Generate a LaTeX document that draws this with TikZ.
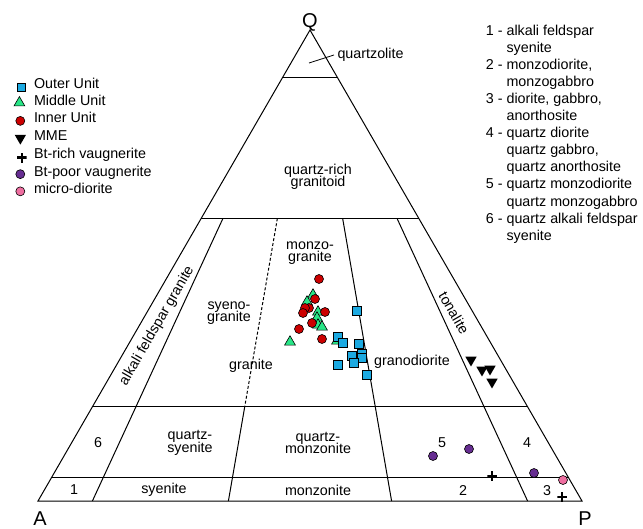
\documentclass[tikz,border=0pt]{standalone}
\usepackage{fontspec}
\setmainfont{Liberation Sans}
\usetikzlibrary{shapes.geometric}

\definecolor{OuterBlue}{RGB}{28,170,226}
\definecolor{MiddleGreen}{RGB}{40,230,135}
\definecolor{InnerRed}{RGB}{204,0,0}
\definecolor{PoorPurple}{RGB}{102,45,145}
\definecolor{MicroPink}{RGB}{238,110,160}

\newcommand{\fieldfont}{\fontsize{14.3}{12.5}\selectfont\lineskiplimit=-20pt\relax}

\begin{document}
\begin{tikzpicture}[x=1pt, y=-1pt, font=\fontsize{14.3}{17.1}\selectfont]
\tikzstyle{edge} = [line width=1pt]
\tikzstyle{corner} = [font=\fontsize{20}{20}\selectfont, inner sep=0pt, anchor=base]
\tikzstyle{field} = [align=center, inner sep=0pt, font=\fieldfont]
\tikzstyle{outer} = [rectangle, draw=black, fill=OuterBlue, line width=0.6pt, minimum size=8.5pt, inner sep=0pt]
\tikzstyle{middle} = [regular polygon, regular polygon sides=3, draw=black, fill=MiddleGreen, line width=0.6pt, minimum size=12.5pt, inner sep=0pt]
\tikzstyle{inner} = [circle, draw=black, fill=InnerRed, line width=0.6pt, minimum size=9pt, inner sep=0pt]
\tikzstyle{mme} = [regular polygon, regular polygon sides=3, shape border rotate=180, fill=black, minimum size=13pt, inner sep=0pt]
\tikzstyle{btrich} = [rectangle, minimum size=9.5pt, inner sep=0pt,
  path picture={\draw[line width=2.6pt] (path picture bounding box.north) -- (path picture bounding box.south)
    (path picture bounding box.west) -- (path picture bounding box.east);}]
\tikzstyle{btpoor} = [circle, draw=black, fill=PoorPurple, line width=0.6pt, minimum size=9pt, inner sep=0pt]
\tikzstyle{micro} = [circle, draw=black, fill=MicroPink, line width=0.6pt, minimum size=9pt, inner sep=0pt]
\tikzstyle{keytext} = [anchor=base west, text height=12pt, text depth=3.5pt, inner sep=0pt]

\useasboundingbox (0,0) rectangle (643,529);

\coordinate (A) at (38,501);
\coordinate (P) at (582,501);
\coordinate (Q) at (310,30);

\draw[edge] (A) -- (P) -- (Q) -- cycle;

\draw[edge] (barycentric cs:Q=.9,A=.1) -- (barycentric cs:Q=.9,P=.1);
\draw[edge] (barycentric cs:Q=.6,A=.4) -- (barycentric cs:Q=.6,P=.4);
\draw[edge] (barycentric cs:Q=.2,A=.8) -- (barycentric cs:Q=.2,P=.8);
\draw[edge] (barycentric cs:Q=.05,A=.95) -- (barycentric cs:Q=.05,P=.95);
\draw[edge] (barycentric cs:Q=.6,A=.36,P=.04) -- (barycentric cs:A=.9,P=.1);
\draw[edge, dash pattern=on 3pt off 2pt] (barycentric cs:Q=.6,A=.26,P=.14) -- (barycentric cs:Q=.2,A=.52,P=.28);
\draw[edge] (barycentric cs:Q=.2,A=.52,P=.28) -- (barycentric cs:A=.65,P=.35);
\draw[edge] (barycentric cs:Q=.6,A=.14,P=.26) -- (barycentric cs:A=.35,P=.65);
\draw[edge] (barycentric cs:Q=.6,A=.04,P=.36) -- (barycentric cs:A=.1,P=.9);

\node (QName) [corner] at (310,27.5) {Q};
\node (AName) [corner] at (40,525.5) {A};
\node (PName) [corner] at (585,525) {P};

\coordinate (QuartzoliteField) at (309,63);
\node (Quartzolite) [anchor=west] at (334,55) {quartzolite};
\draw[line width=0.8pt] (QuartzoliteField) -- (Quartzolite.west);

\node (QuartzRich) [field] at (318,177) {quartz-rich\\granitoid};
\node (AlkaliGranite) [field, rotate=60] at (157,326) {alkali feldspar granite};
\node (SyenoGranite) [field] at (229,313) {syeno-\\granite};
\node (MonzoGranite) [field] at (310,253) {monzo-\\granite};
\node (Granite) [field] at (251,366) {granite};
\node (Granodiorite) [field] at (412,362) {granodiorite};
\node (Tonalite) [field, rotate=-60] at (454,313) {tonalite};
\node (Six) [field] at (98,443) {6};
\node (QuartzSyenite) [field] at (190,443) {quartz-\\syenite};
\node (QuartzMonzonite) [field] at (318,443) {quartz-\\monzonite};
\node (Five) [field] at (442,443) {5};
\node (Four) [field] at (527,443) {4};
\node (One) [field] at (74,490) {1};
\node (Syenite) [field] at (164,490) {syenite};
\node (Monzonite) [field] at (318,490) {monzonite};
\node (Two) [field] at (463,491) {2};
\node (Three) [field] at (547,491) {3};

\foreach \px/\py [count=\n] in {313/295, 307/302, 318/312, 317/318, 318/325, 322/327, 290/342, 337/341}
  \node (Middle\n) [middle] at (\px,\py) {};
\foreach \px/\py [count=\n] in {319/279, 315/299, 309/308, 305/308, 303/313, 325/312, 312/323, 299/329, 322/339}
  \node (Inner\n) [inner] at (\px,\py) {};
\foreach \px/\py [count=\n] in {357/311, 338/337, 343/343, 359/344, 352/356, 362/354, 362/358, 354/363, 338/365, 367/375}
  \node (Outer\n) [outer] at (\px,\py) {};
\foreach \px/\py [count=\n] in {471/360, 482/370, 490/369, 492/382}
  \node (Mme\n) [mme] at (\px,\py) {};
\foreach \px/\py [count=\n] in {433/456, 469/449, 534/473}
  \node (BtPoor\n) [btpoor] at (\px,\py) {};
\foreach \px/\py [count=\n] in {492/476, 562/497}
  \node (BtRich\n) [btrich] at (\px,\py) {};
\node (Micro1) [micro] at (563,480) {};

\matrix (SampleKey) [anchor=north west, inner sep=0pt, row sep=1.7pt, column sep=7.4pt] at (13.5,76.3)
{
\node (KeyOuter) [outer, yshift=5.5pt] {}; & \node [keytext] {Outer Unit}; \\
\node (KeyMiddle) [middle, yshift=5.5pt] {}; & \node [keytext] {Middle Unit}; \\
\node (KeyInner) [inner, yshift=5.5pt] {}; & \node [keytext] {Inner Unit}; \\
\node (KeyMme) [mme, yshift=5.5pt] {}; & \node [keytext] {MME}; \\
\node (KeyBtRich) [btrich, yshift=5.5pt] {}; & \node [keytext] {Bt-rich vaugnerite}; \\
\node (KeyBtPoor) [btpoor, yshift=5.5pt] {}; & \node [keytext] {Bt-poor vaugnerite}; \\
\node (KeyMicro) [micro, yshift=5.5pt] {}; & \node [keytext] {micro-diorite}; \\
};

\node (FieldKey) [anchor=north west, align=left, inner sep=0pt] at (485.7,24.5)
{1 - alkali feldspar\\ \phantom{1 - }syenite\\
2 - monzodiorite,\\ \phantom{2 - }monzogabbro\\
3 - diorite, gabbro,\\ \phantom{3 - }anorthosite\\
4 - quartz diorite\\ \phantom{4 - }quartz gabbro,\\ \phantom{4 - }quartz anorthosite\\
5 - quartz monzodiorite\\ \phantom{5 - }quartz monzogabbro\\
6 - quartz alkali feldspar\\ \phantom{6 - }syenite};

\end{tikzpicture}
\end{document}
